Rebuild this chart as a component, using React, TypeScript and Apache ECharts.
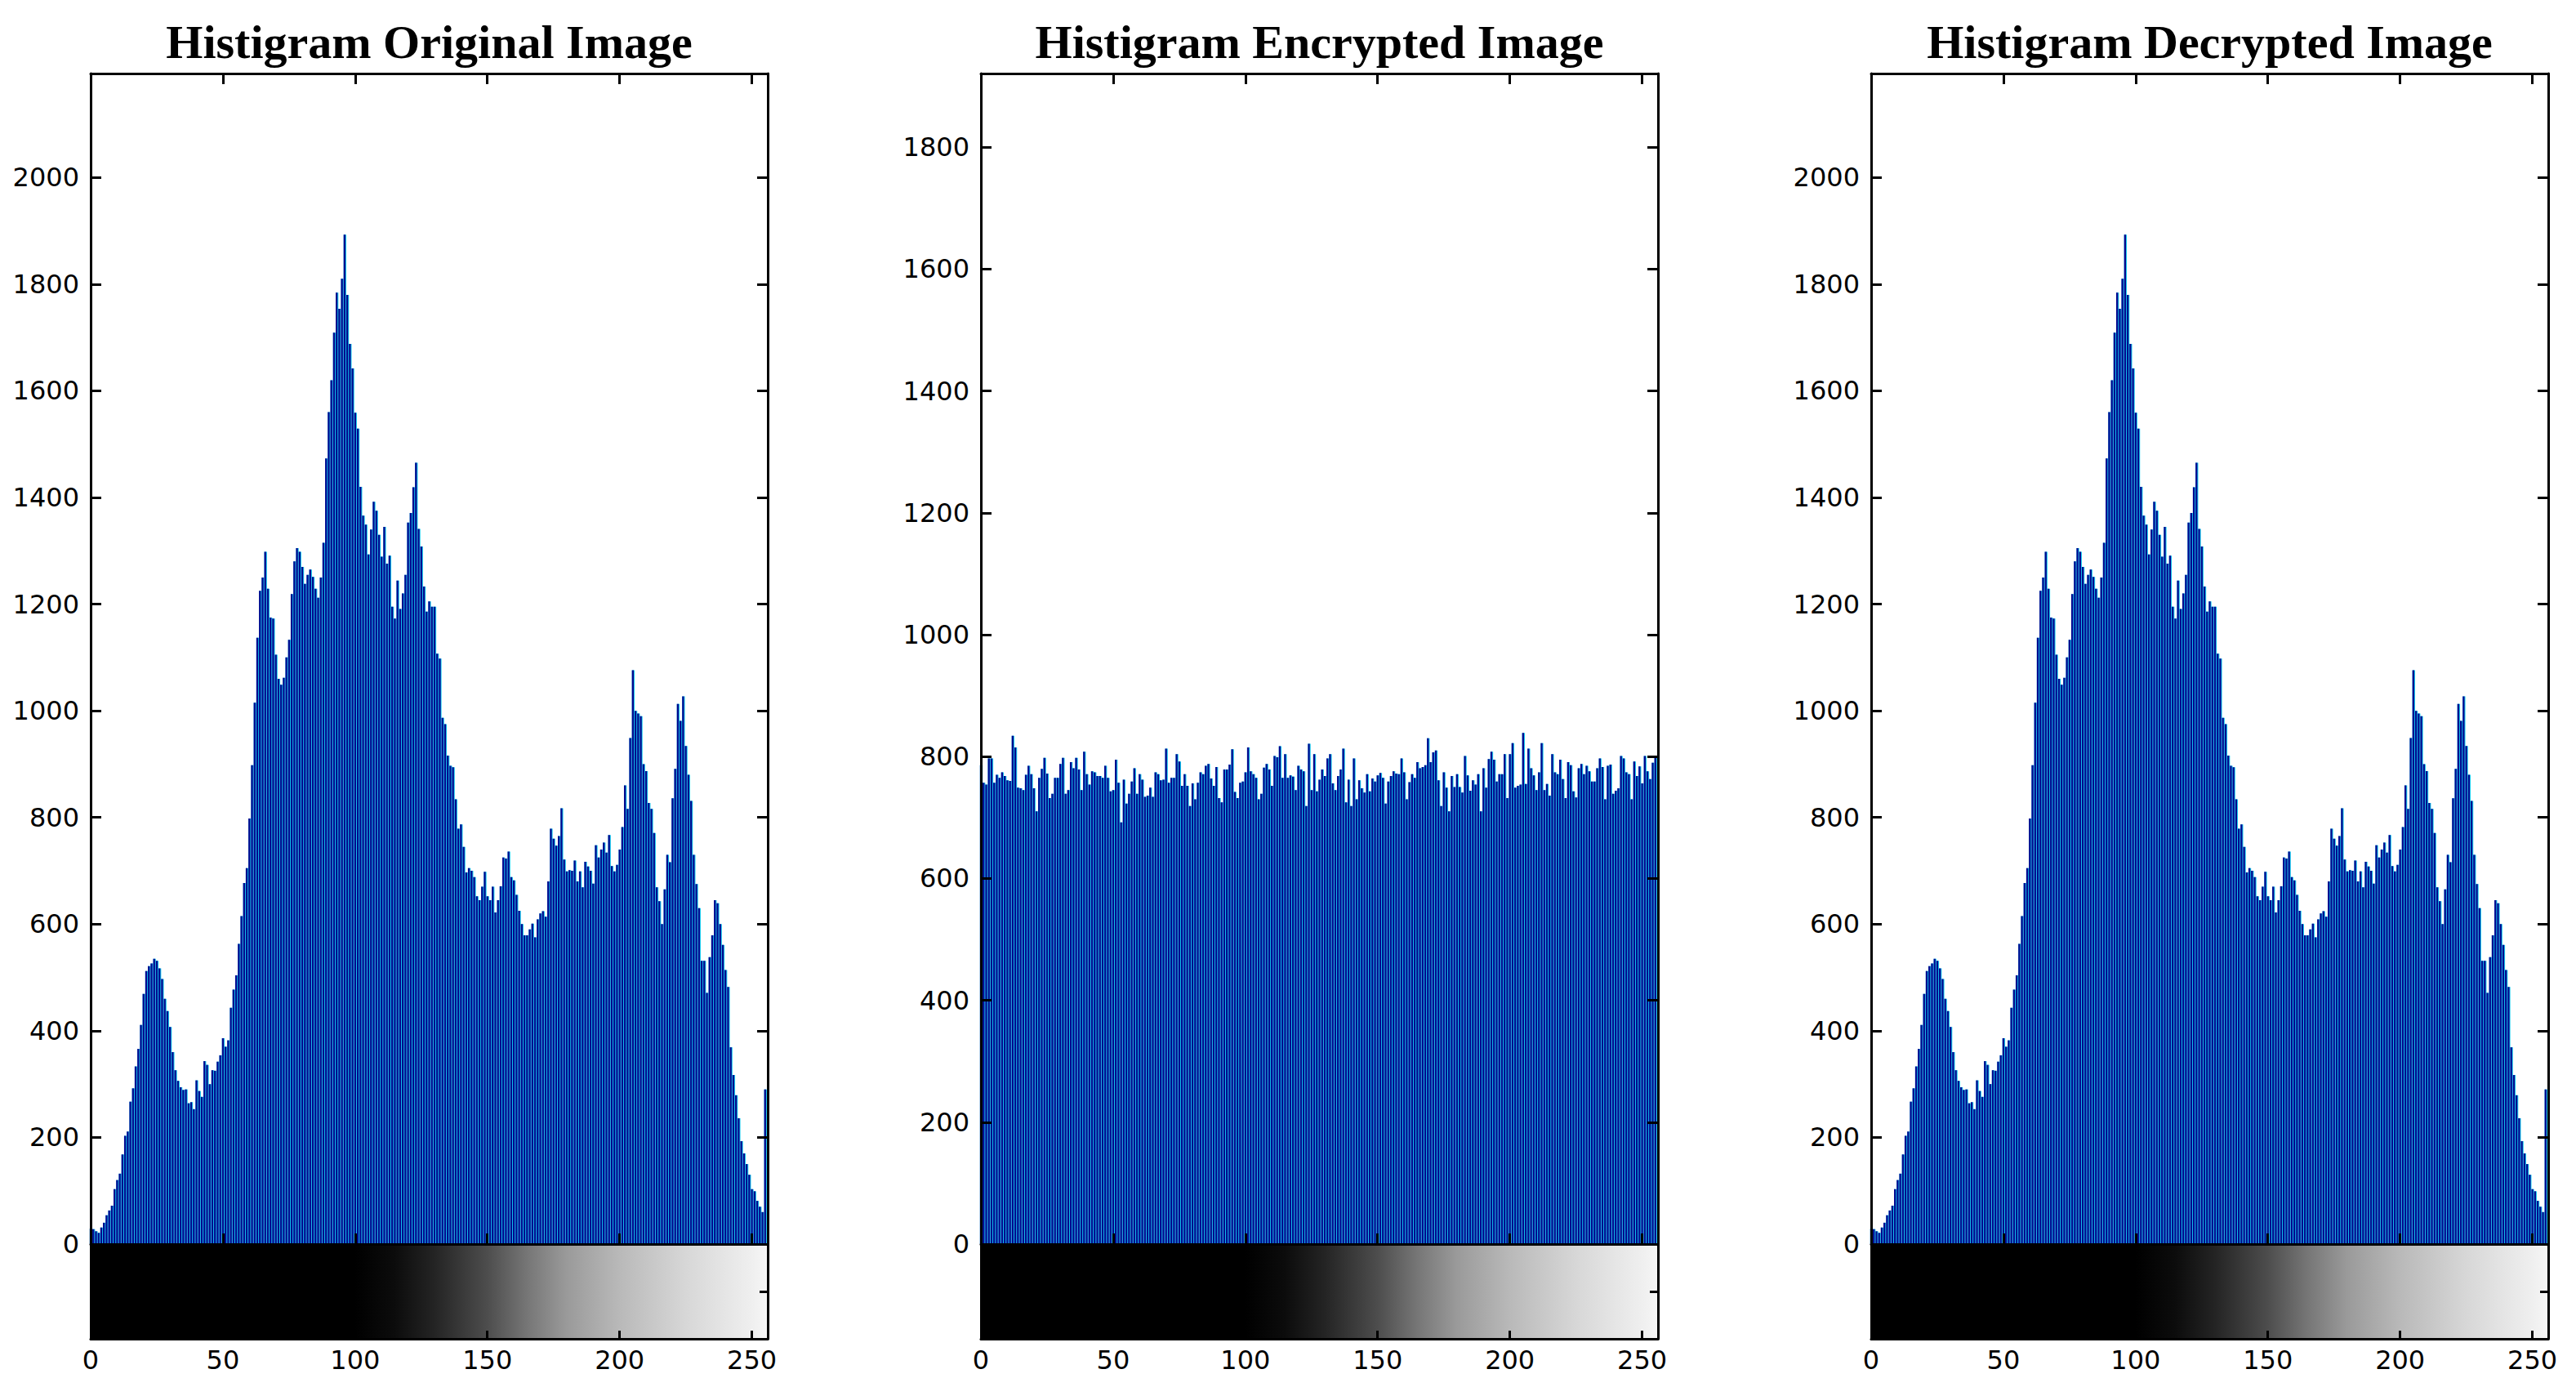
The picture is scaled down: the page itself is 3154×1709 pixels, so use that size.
import React, { useEffect, useRef } from "react";
import * as echarts from "echarts";

// Histogram counts per gray level 0..255
const originalCounts = [
  29, 28, 24, 21, 31, 40, 54, 63, 72, 103,
  120, 132, 168, 203, 211, 267, 292, 333, 366, 411,
  469, 512, 521, 526, 535, 531, 517, 497, 460, 437,
  407, 360, 326, 306, 294, 289, 290, 264, 266, 253,
  307, 287, 276, 343, 336, 300, 326, 325, 342, 354,
  386, 370, 382, 443, 477, 504, 563, 615, 677, 705,
  798, 898, 1015, 1137, 1225, 1250, 1298, 1229, 1175, 1173,
  1105, 1060, 1049, 1062, 1100, 1133, 1219, 1280, 1305, 1298,
  1270, 1238, 1255, 1265, 1251, 1229, 1212, 1250, 1315, 1473,
  1560, 1620, 1709, 1784, 1754, 1810, 1893, 1780, 1688, 1642,
  1559, 1529, 1420, 1366, 1349, 1293, 1340, 1392, 1375, 1330,
  1289, 1345, 1276, 1291, 1195, 1173, 1244, 1191, 1220, 1255,
  1353, 1371, 1419, 1465, 1341, 1308, 1233, 1186, 1205, 1195,
  1195, 1107, 1098, 987, 975, 916, 897, 894, 834, 779,
  787, 745, 697, 705, 700, 688, 652, 645, 670, 698,
  652, 645, 670, 622, 645, 671, 725, 723, 736, 688,
  682, 655, 625, 600, 579, 579, 590, 601, 575, 609,
  620, 624, 614, 680, 779, 760, 747, 765, 817, 721,
  699, 701, 700, 719, 680, 699, 669, 717, 708, 700,
  676, 748, 725, 740, 753, 734, 767, 709, 699, 711,
  740, 782, 860, 816, 949, 1076, 1000, 995, 990, 900,
  887, 827, 816, 771, 669, 643, 600, 665, 730, 716,
  836, 891, 1013, 981, 1027, 934, 880, 831, 730, 675,
  630, 531, 531, 471, 538, 579, 645, 639, 600, 561,
  514, 482, 369, 317, 279, 236, 193, 170, 150, 130,
  103, 99, 81, 70, 60, 290,
];

const encryptedCounts = [
  786, 757, 754, 797, 797, 757, 770, 765, 774, 768,
  761, 760, 834, 815, 749, 748, 745, 770, 785, 771,
  748, 710, 765, 780, 798, 772, 732, 739, 765, 765,
  788, 798, 739, 745, 791, 781, 798, 779, 745, 808,
  771, 754, 776, 774, 768, 768, 765, 785, 765, 743,
  745, 795, 757, 692, 762, 723, 739, 759, 781, 739,
  771, 762, 734, 736, 749, 734, 774, 771, 761, 762,
  813, 757, 765, 765, 804, 792, 752, 771, 752, 719,
  756, 730, 757, 774, 771, 785, 788, 764, 752, 783,
  732, 725, 779, 779, 787, 812, 742, 732, 757, 759,
  774, 815, 776, 771, 765, 730, 739, 782, 788, 779,
  752, 801, 799, 817, 765, 804, 765, 769, 767, 745,
  785, 779, 776, 719, 821, 745, 804, 743, 762,
  779, 768, 797, 804, 756, 745, 768, 779, 813, 725,
  762, 719, 797, 730, 761, 748, 741, 771, 743, 764,
  759, 769, 773, 765, 723, 759, 768, 776, 772, 771,
  797, 774, 730, 758, 771, 765, 791, 781, 783, 786,
  830, 791, 807, 810, 761, 719, 774, 749, 710, 768,
  750, 771, 750, 741, 801, 769, 744, 761, 754, 771,
  710, 781, 749, 796, 808, 795, 759, 771, 771, 804,
  732, 804, 822, 749, 752, 754, 839, 755, 813, 781,
  769, 745, 774, 822, 745, 755, 736, 804, 774, 771,
  795, 763, 732, 791, 786, 743, 733, 781, 788, 771,
  785, 776, 759, 759, 781, 797, 783, 730, 785, 787,
  739, 744, 748, 801, 797, 774, 771, 730, 792, 768,
  784, 756, 801, 776, 763, 790, 798,
];

// The decrypted image has the same histogram as the original one
const decryptedCounts = originalCounts.slice();

const titles = [
  "Histigram Original Image",
  "Histigram Encrypted Image",
  "Histigram Decrypted Image",
];
const yMaxes = [2195, 1921, 2195];
const yStep = 200;
const xMax = 256;
const xStep = 50;

// gray-level ramp of the colour bar: [gray level, colour]
const grayRamp: [number, string][] = [
  [0, "#000000"],
  [100, "#000000"],
  [115, "#0c0c0c"],
  [130, "#242424"],
  [150, "#4d4d4d"],
  [165, "#767676"],
  [180, "#9a9a9a"],
  [200, "#b9b9b9"],
  [225, "#d7d7d7"],
  [250, "#efefef"],
  [256, "#f6f6f6"],
];

const PANEL_LEFTS = [111, 1201, 2291];
const PANEL_W = 829;
const TOP = 90;
const ZERO_Y = 1523;
const BAND_H = 116;
const CYAN = "#12cdf0";
const BLUE = "#03088e";
const LABEL_FONT = "DejaVu Sans";
const LABEL_SIZE = 32;

function buildOption() {
  const countsList = [originalCounts, encryptedCounts, decryptedCounts];
  const grid: any[] = [];
  const xAxis: any[] = [];
  const yAxis: any[] = [];
  const series: any[] = [];
  const graphic: any[] = [];

  const axisLine = { show: true, onZero: false, lineStyle: { color: "#000", width: 3 } };
  const tick = (len: number) => ({
    show: true,
    inside: true,
    length: len,
    lineStyle: { color: "#000", width: 3 },
  });
  const noSplit = { show: false };

  countsList.forEach((counts, i) => {
    const left = PANEL_LEFTS[i];
    const gMain = grid.length;
    grid.push({ left, top: TOP, width: PANEL_W, height: ZERO_Y - TOP });
    const gBand = grid.length;
    grid.push({ left, top: ZERO_Y, width: PANEL_W, height: BAND_H });

    const xMainIdx = xAxis.length;
    xAxis.push({
      type: "value", gridIndex: gMain, position: "bottom", min: 0, max: xMax, interval: xStep,
      axisLine, axisTick: tick(13), axisLabel: { show: false }, splitLine: noSplit, z: 10,
    });
    xAxis.push({
      type: "value", gridIndex: gMain, position: "top", min: 0, max: xMax, interval: xStep,
      axisLine, axisTick: tick(13), axisLabel: { show: false }, splitLine: noSplit, z: 10,
    });
    const xBandIdx = xAxis.length;
    xAxis.push({
      type: "value", gridIndex: gBand, position: "bottom", min: 0, max: xMax, interval: xStep,
      axisLine, axisTick: tick(10), splitLine: noSplit, z: 10,
      axisLabel: {
        show: true, color: "#000", fontFamily: LABEL_FONT, fontSize: LABEL_SIZE, margin: 10,
        formatter: (v: number) => (v % xStep === 0 ? String(v) : ""),
      },
    });

    const yMainIdx = yAxis.length;
    yAxis.push({
      type: "value", gridIndex: gMain, position: "left", min: 0, max: yMaxes[i], interval: yStep,
      axisLine, axisTick: tick(13), splitLine: noSplit, z: 10,
      axisLabel: {
        show: true, color: "#000", fontFamily: LABEL_FONT, fontSize: LABEL_SIZE, margin: 14,
        formatter: (v: number) => (v % yStep === 0 ? String(v) : ""),
      },
    });
    yAxis.push({
      type: "value", gridIndex: gMain, position: "right", min: 0, max: yMaxes[i], interval: yStep,
      axisLine, axisTick: tick(13), axisLabel: { show: false }, splitLine: noSplit, z: 10,
    });
    const yBandIdx = yAxis.length;
    yAxis.push({
      type: "value", gridIndex: gBand, position: "left", min: 0, max: 1, interval: 0.5,
      axisLine, axisTick: { show: false }, axisLabel: { show: false }, splitLine: noSplit, z: 10,
    });
    yAxis.push({
      type: "value", gridIndex: gBand, position: "right", min: 0, max: 1, interval: 0.5,
      axisLine, axisTick: tick(10), axisLabel: { show: false }, splitLine: noSplit, z: 10,
    });

    const data = counts.map((v, k) => [k, v]);
    series.push({
      type: "bar", xAxisIndex: xMainIdx, yAxisIndex: yMainIdx, data,
      barWidth: 3.3, barGap: "-100%", itemStyle: { color: CYAN }, silent: true,
    });
    series.push({
      type: "bar", xAxisIndex: xMainIdx, yAxisIndex: yMainIdx, data,
      barWidth: 2.3, barGap: "-100%", itemStyle: { color: BLUE }, silent: true,
    });

    series.push({
      type: "custom",
      xAxisIndex: xBandIdx,
      yAxisIndex: yBandIdx,
      data: [[0, 0, xMax, 1]],
      encode: { x: [0, 2], y: [1, 3] },
      silent: true,
      renderItem: (_params: any, api: any) => {
        const p0 = api.coord([api.value(0), api.value(3)]);
        const p1 = api.coord([api.value(2), api.value(1)]);
        return {
          type: "rect",
          shape: { x: p0[0], y: p0[1], width: p1[0] - p0[0], height: p1[1] - p0[1] },
          style: {
            fill: new echarts.graphic.LinearGradient(
              0, 0, 1, 0,
              grayRamp.map(([g, c]) => ({ offset: g / xMax, color: c }))
            ),
          },
        };
      },
    });

    graphic.push({
      type: "text",
      x: left + PANEL_W / 2,
      y: 51,
      style: {
        text: titles[i],
        fill: "#000",
        font: 'bold 58px "Liberation Serif"',
        align: "center",
        verticalAlign: "middle",
        textAlign: "center",
        textVerticalAlign: "middle",
      },
    });
  });

  return {
    animation: false,
    backgroundColor: "#ffffff",
    grid,
    xAxis,
    yAxis,
    series,
    graphic,
  };
}

export default function App() {
  const ref = useRef<HTMLDivElement>(null);
  useEffect(() => {
    if (!ref.current) return;
    const chart = echarts.init(ref.current, undefined, { renderer: "svg" });
    chart.setOption(buildOption() as any);
    return () => chart.dispose();
  }, []);
  return (
    <div
      ref={ref}
      style={{ position: "absolute", left: 0, top: 0, width: 3154, height: 1709, background: "#fff" }}
    />
  );
}
